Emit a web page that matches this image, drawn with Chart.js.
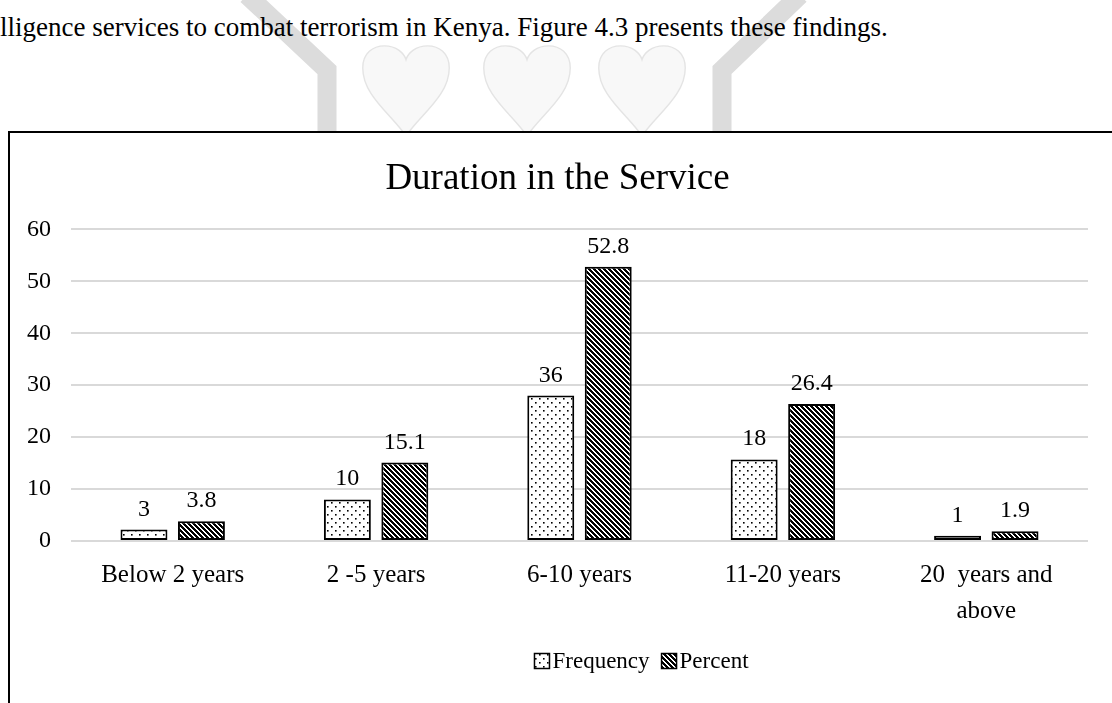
<!DOCTYPE html>
<html>
<head>
<meta charset="utf-8">
<script src="https://cdn.jsdelivr.net/npm/chart.js@4.4.1/dist/chart.umd.min.js"></script>
<style>
  html, body { margin: 0; padding: 0; background: #fff; width: 1112px; height: 703px; overflow: hidden; }
  #mark { position: absolute; left: 0; top: 0; z-index: 0; }
  #lead {
    position: absolute; left: 0; top: 12px; z-index: 1; white-space: nowrap;
    font: 27px 'Liberation Serif', 'Times New Roman', serif; color: #000;
  }
  #box {
    position: absolute; left: 8px; top: 131px; width: 1120px; height: 620px;
    border: 2px solid #000; background: #fff; z-index: 2;
  }
  #chart { display: block; }
</style>
</head>
<body>
<!-- faint logo watermark behind the page text -->
<svg id="mark" width="1112" height="140">
  <polyline points="247,-5 327,70 327,140" fill="none" stroke="#dcdcdc" stroke-width="19"/>
  <polyline points="800,-5 722,70 722,140" fill="none" stroke="#dcdcdc" stroke-width="19"/>
  <g fill="#f8f8f8" stroke="#e4e4e4" stroke-width="1.5">
    <path transform="translate(359,44) scale(0.94,0.92)" d="M50 100 C 34 76, 4 56, 4 26 C 4 10, 15 2, 27 2 C 40 2, 48 10, 50 17 C 52 10, 60 2, 73 2 C 85 2, 96 10, 96 26 C 96 56, 66 76, 50 100 Z"/>
    <path transform="translate(480,44) scale(0.94,0.92)" d="M50 100 C 34 76, 4 56, 4 26 C 4 10, 15 2, 27 2 C 40 2, 48 10, 50 17 C 52 10, 60 2, 73 2 C 85 2, 96 10, 96 26 C 96 56, 66 76, 50 100 Z"/>
    <path transform="translate(595,44) scale(0.94,0.92)" d="M50 100 C 34 76, 4 56, 4 26 C 4 10, 15 2, 27 2 C 40 2, 48 10, 50 17 C 52 10, 60 2, 73 2 C 85 2, 96 10, 96 26 C 96 56, 66 76, 50 100 Z"/>
  </g>
</svg>
<div id="lead">lligence services to combat terrorism in Kenya. Figure 4.3 presents these findings.</div>
<div id="box"><canvas id="chart" width="1104" height="570"></canvas></div>

<script>
// ── Data ─────────────────────────────────────────────────────────────────────
const categories      = ['Below 2 years', '2 -5 years', '6-10 years', '11-20 years', ['20  years and', 'above']];
const frequencyBars   = [2.2, 8, 28, 15.7, 1];       // bar heights as drawn
const frequencyLabels = ['3', '10', '36', '18', '1']; // labels as printed
const percentValues   = [3.8, 15.1, 52.8, 26.4, 1.9];
const percentLabels   = ['3.8', '15.1', '52.8', '26.4', '1.9'];
const yMin = 0, yMax = 60, yStep = 10;

// ── Defaults ─────────────────────────────────────────────────────────────────
const SERIF = "'Liberation Serif', 'Times New Roman', serif";
Chart.defaults.font.family = SERIF;
Chart.defaults.font.size   = 24;
Chart.defaults.color       = '#000';

// ── Fill patterns (dotted / wide downward diagonal) ──────────────────────────
function dotPattern(ctx) {
  const c = document.createElement('canvas');
  c.width = 8; c.height = 8;
  const p = c.getContext('2d');
  p.fillStyle = '#fff';
  p.fillRect(0, 0, 8, 8);
  p.fillStyle = '#000';
  p.fillRect(1, 1, 1.6, 1.6);
  p.fillRect(5, 5, 1.6, 1.6);
  return ctx.createPattern(c, 'repeat');
}

function stripePattern(ctx) {
  const s = 10;
  const c = document.createElement('canvas');
  c.width = s; c.height = s;
  const p = c.getContext('2d');
  const img = p.createImageData(s, s);
  for (let y = 0; y < s; y++) {
    for (let x = 0; x < s; x++) {
      const k = ((x - y) % 5 + 5) % 5;
      const v = k < 2 ? 255 : 0;
      const i = (y * s + x) * 4;
      img.data[i] = img.data[i + 1] = img.data[i + 2] = v;
      img.data[i + 3] = 255;
    }
  }
  p.putImageData(img, 0, 0);
  return ctx.createPattern(c, 'repeat');
}

// ── Plugin: value labels above bars ──────────────────────────────────────────
const barLabels = {
  id: 'barLabels',
  afterDatasetsDraw(chart) {
    const { ctx } = chart;
    ctx.save();
    ctx.font = `24px ${SERIF}`;
    ctx.fillStyle = '#000';
    ctx.textAlign = 'center';
    ctx.textBaseline = 'alphabetic';
    chart.data.datasets.forEach((ds, di) => {
      chart.getDatasetMeta(di).data.forEach((bar, i) => {
        ctx.fillText(ds.valueLabels[i], bar.x, bar.y - 14);
      });
    });
    ctx.restore();
  }
};

// ── Plugin: Excel-style legend (pattern swatch hugging its text) ─────────────
const swatchLegend = {
  id: 'swatchLegend',
  afterDraw(chart, args, opts) {
    const { ctx } = chart;
    const box = 15, gap = 3, between = 12;
    ctx.save();
    ctx.font = `23px ${SERIF}`;
    const items = chart.data.datasets.map(ds => ({
      ds, w: ctx.measureText(ds.label).width,
    }));
    const total = items.reduce((s, it) => s + box + gap + it.w, 0) + between * (items.length - 1);
    let x = opts.centerX - total / 2;
    const y = opts.centerY;
    ctx.textBaseline = 'middle';
    ctx.textAlign = 'left';
    items.forEach(it => {
      ctx.fillStyle = it.ds.backgroundColor;
      ctx.fillRect(x, y - box / 2, box, box);
      ctx.strokeStyle = '#000';
      ctx.lineWidth = 1.5;
      ctx.strokeRect(x, y - box / 2, box, box);
      ctx.fillStyle = '#000';
      ctx.fillText(it.ds.label, x + box + gap, y + 1);
      x += box + gap + it.w + between;
    });
    ctx.restore();
  }
};

// ── Chart ────────────────────────────────────────────────────────────────────
const el  = document.getElementById('chart');
const ctx = el.getContext('2d');

new Chart(el, {
  type: 'bar',
  data: {
    labels: categories,
    datasets: [
      {
        label: 'Frequency',
        data: frequencyBars,
        valueLabels: frequencyLabels,
        backgroundColor: dotPattern(ctx),
        borderColor: '#000',
        borderWidth: 2,
        borderSkipped: false,
        categoryPercentage: 0.565,
        barPercentage: 0.817,
      },
      {
        label: 'Percent',
        data: percentValues,
        valueLabels: percentLabels,
        backgroundColor: stripePattern(ctx),
        borderColor: '#000',
        borderWidth: 2,
        borderSkipped: false,
        categoryPercentage: 0.565,
        barPercentage: 0.817,
      },
    ],
  },
  options: {
    responsive: false,
    maintainAspectRatio: false,
    animation: false,
    layout: { padding: { left: 17, right: 26, top: 0, bottom: 82 } },
    scales: {
      x: {
        grid: { display: false },
        border: { display: false },
        ticks: { padding: 8, maxRotation: 0, autoSkip: false, font: { size: 25, lineHeight: 1.45 } },
        afterFit: (scale) => { scale.height = 80; },
      },
      y: {
        min: yMin,
        max: yMax,
        grid: { color: '#d9d9d9', lineWidth: 2, drawTicks: false },
        border: { display: false },
        ticks: { stepSize: yStep, padding: 20 },
        afterFit: (scale) => { scale.width = 44; },
      },
    },
    plugins: {
      title: {
        display: true,
        text: 'Duration in the Service',
        font: { size: 37, weight: 'normal' },
        color: '#000',
        padding: { top: 24, bottom: 28 },
      },
      legend: { display: false },
      swatchLegend: { centerX: 631.5, centerY: 528 },
      tooltip: { enabled: false },
    },
  },
  plugins: [barLabels, swatchLegend],
});
</script>
</body>
</html>
